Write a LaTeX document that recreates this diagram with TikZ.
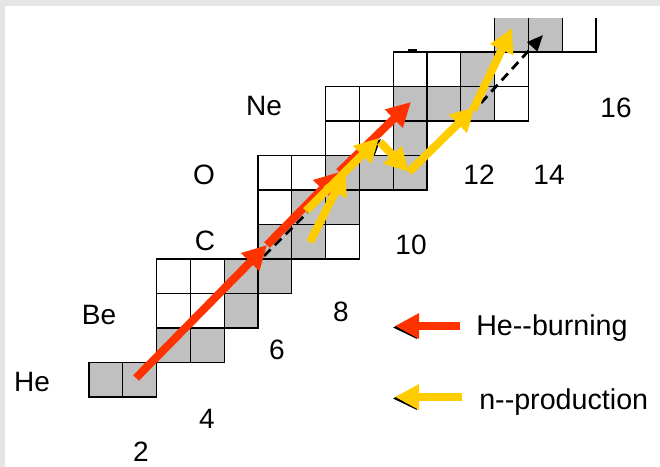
\documentclass[tikz,border=0pt]{standalone}
\usepackage{fontspec}
\setmainfont{Liberation Sans}
\usetikzlibrary{arrows.meta}
\definecolor{cellgrey}{RGB}{192,192,192}
\definecolor{hered}{RGB}{255,51,0}
\definecolor{nyellow}{RGB}{255,204,0}
\definecolor{framegrey}{RGB}{229,229,229}
\begin{document}
\begin{tikzpicture}[x=0.75pt,y=-0.75pt,
  cellline/.style={draw=black, line width=0.9pt},
  lbl/.style={inner sep=0pt, font=\fontsize{21pt}{25pt}\selectfont},
  leg/.style={inner sep=0pt, anchor=base west, font=\fontsize{21.5pt}{25pt}\selectfont},
  redarr/.style={draw=hered, line width=6pt, -{Triangle[length=18pt,width=18pt]}},
  yelarr/.style={draw=nyellow, line width=6pt, -{Triangle[length=18pt,width=18pt]}},
  dasharr/.style={draw=black, line width=2.1pt, dash pattern=on 7pt off 4.5pt, -{Triangle[length=12pt,width=10pt]}},
  shadowtip/.style={draw=black, fill=black, line width=0.8pt, -{Triangle[length=18pt,width=17pt]}}]
\useasboundingbox (0,0) rectangle (660,467);
\fill[white] (0,0) rectangle (660,467);
\fill[framegrey] (0,0) rectangle (660,6);
\fill[framegrey] (0,0) rectangle (5,467);
% cells
\begin{scope}
\clip (0,18.4) rectangle (660,467);
\foreach \i/\j/\c in {0/0/cellgrey,1/0/cellgrey,
  2/1/cellgrey,3/1/cellgrey,
  2/2/white,3/2/white,4/2/cellgrey,
  2/3/white,3/3/white,4/3/cellgrey,5/3/cellgrey,
  5/4/cellgrey,6/4/cellgrey,7/4/white,
  5/5/white,6/5/cellgrey,7/5/cellgrey,
  5/6/white,6/6/white,7/6/cellgrey,8/6/cellgrey,9/6/cellgrey,
  7/7/white,8/7/white,9/7/cellgrey,
  7/8/white,8/8/white,9/8/cellgrey,10/8/cellgrey,11/8/cellgrey,12/8/white,
  9/9/white,10/9/white,11/9/cellgrey,12/9/white,
  12/10/cellgrey,13/10/cellgrey,14/10/white}{
  \draw[cellline, fill=\c] ({89+33.8*\i},{397-34.5*\j}) rectangle ++(33.8,-34.5);
}
\end{scope}
\draw[line width=1.6pt] (408,50) -- (417,50);
% element labels
\node[lbl] (lhe) at (32,382) {He};
\node[lbl] (lbe) at (99,315) {Be};
\node[lbl] (lc) at (205,241) {C};
\node[lbl] (lo) at (204,175) {O};
\node[lbl] (lne) at (264,106) {Ne};
% neutron numbers
\node[lbl] (n2) at (141,452) {2};
\node[lbl] (n4) at (207,419) {4};
\node[lbl] (n6) at (277,350) {6};
\node[lbl] (n8) at (341,312) {8};
\node[lbl] (n10) at (411,245) {10};
\node[lbl] (n12) at (479,175) {12};
\node[lbl] (n14) at (549,175) {14};
\node[lbl] (n16) at (616,108) {16};
% nuclide points
\coordinate (he4) at (136,378);
\coordinate (c12) at (267,245);
\coordinate (o16) at (339,172);
\coordinate (ne20) at (411,102);
\coordinate (c13) at (310,242);
\coordinate (o16b) at (346,171);
\coordinate (n14) at (306,211);
\coordinate (f18) at (379,138);
\coordinate (f18b) at (380,142);
\coordinate (o18) at (409,172);
\coordinate (ne22) at (475,107);
\coordinate (ne22b) at (473,110);
\coordinate (mg25) at (512,28);
\coordinate (dstart) at (264,256);
\coordinate (dend) at (381,139);
\coordinate (ne22c) at (481,103);
\coordinate (mg26) at (543,35);
% dashed arrows
\draw[dasharr] (dstart) -- (dend);
\draw[dasharr] (ne22c) -- (mg26);
% He burning
\draw[redarr] (he4) -- (c12);
\draw[redarr] (c12) -- (o16);
\draw[redarr] (o16) -- (ne20);
% n production
\draw[yelarr] (c13) -- (o16b);
\draw[yelarr] (n14) -- (f18);
\draw[yelarr] (f18b) -- (o18);
\draw[yelarr] (o18) -- (ne22);
\draw[yelarr] (ne22b) -- (mg25);
% legend
\coordinate (lr1) at (460,326);
\coordinate (lr2) at (395,326);
\coordinate (ly1) at (462,397);
\coordinate (ly2) at (395,397);
\draw[shadowtip] ([shift={(25,1.5)}]lr2) -- ([shift={(-2,1.5)}]lr2);
\draw[shadowtip] ([shift={(25,1.5)}]ly2) -- ([shift={(-2,1.5)}]ly2);
\draw[redarr] (lr1) -- (lr2);
\draw[yelarr] (ly1) -- (ly2);
\node[leg] (lhb) at (476,335) {He-{}-burning};
\node[leg] (lnp) at (479,409) {n-{}-production};
\end{tikzpicture}
\end{document}
